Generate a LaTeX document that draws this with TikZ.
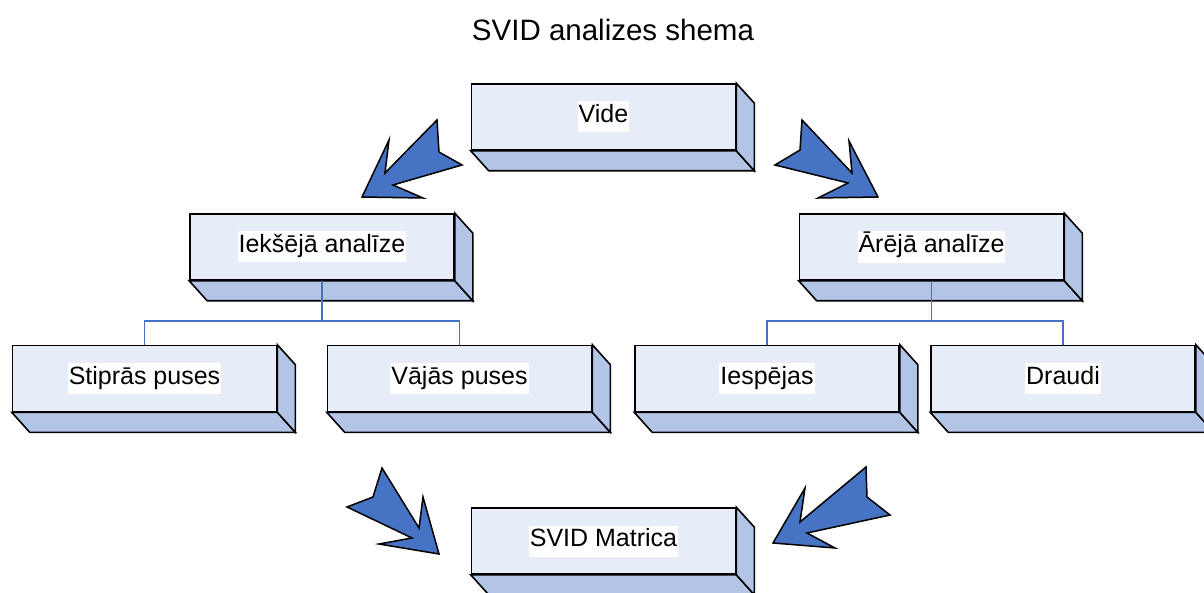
\documentclass[tikz,border=0pt]{standalone}
\usepackage{fontspec}
\setmainfont{Liberation Sans}
\usetikzlibrary{calc}
\definecolor{faceFront}{HTML}{E7EDF8}
\definecolor{faceSide}{HTML}{B2C5E6}
\definecolor{arrowBlue}{HTML}{4673C3}
\definecolor{linkBlue}{HTML}{4472C4}
\setlength{\fboxsep}{1pt}
\newcommand{\boxlabel}[1]{\colorbox{white}{\strut #1}}
% draws the bottom and right faces of a 3D block behind a front node
\newcommand{\extrude}[1]{%
  \filldraw[side] (#1.south west) -- (#1.south east) -- ++(18,-20) -- ($(#1.south west)+(18,-20)$) -- cycle;
  \filldraw[side] (#1.north east) -- ++(18,-20) -- ($(#1.south east)+(18,-20)$) -- (#1.south east) -- cycle;
}
\tikzset{
  block/.style={draw=black, line width=1.6pt, fill=faceFront, minimum width=264pt,
    minimum height=66pt, inner sep=0pt, font=\fontsize{25}{29}\selectfont},
  side/.style={draw=black, line width=1.6pt, fill=faceSide, line join=miter},
  bigarrow/.style={draw=black, line width=1.5pt, fill=arrowBlue, line join=miter},
  link/.style={draw=linkBlue, line width=1.8pt},
  title/.style={font=\fontsize{29.5}{34}\selectfont}
}
\begin{document}
\begin{tikzpicture}[x=1pt,y=1pt]
\useasboundingbox[fill=white] (0,0) rectangle (1204,592);

\node[title] (ttl) at (613,562) {SVID analizes shema};

% blocks (front faces)
\node[block] (vide) at (603.5,475) {\boxlabel{Vide}};
\node[block] (iek)  at (322,345)   {\boxlabel{Iekšējā analīze}};
\node[block] (are)  at (931.5,345) {\boxlabel{Ārējā analīze}};
\node[block] (stip) at (144.5,213.5) {\boxlabel{Stiprās puses}};
\node[block] (vaj)  at (459.5,213.5) {\boxlabel{Vājās puses}};
\node[block] (iesp) at (767,213.5) {\boxlabel{Iespējas}};
\node[block] (drau) at (1063,213.5) {\boxlabel{Draudi}};
\node[block] (mat)  at (603.5,51)  {\boxlabel{SVID Matrica}};

\foreach \b in {vide,iek,are,stip,vaj,iesp,drau,mat} {\extrude{\b}}

% tree connectors
\draw[link] (iek.south) -- ++(0,-40) coordinate (iekj);
\draw[link] (iekj) -| (stip.north);
\draw[link] (iekj) -| (vaj.north);
\draw[link] (are.south) -- ++(0,-40) coordinate (arej);
\draw[link] (arej) -| (iesp.north);
\draw[link] (arej) -| (drau.north);

% notched block arrows
\filldraw[bigarrow] (362,395) -- (389,452) -- (385,419) -- (437,472) -- (439,440)
  -- (462,427) -- (393,407) -- (423,394) -- cycle;
\filldraw[bigarrow] (878,395) -- (849,451) -- (852,419) -- (802,472) -- (800,442)
  -- (775,427) -- (848,409) -- (818,394) -- cycle;
\filldraw[bigarrow] (439,38) -- (423,95) -- (419,64) -- (382,124) -- (373,95)
  -- (347,85) -- (412,54) -- (379,48) -- cycle;
\filldraw[bigarrow] (773,49) -- (805,104) -- (800,70) -- (866,125) -- (867,95)
  -- (890,77) -- (807,59) -- (835,44) -- cycle;
\end{tikzpicture}
\end{document}
